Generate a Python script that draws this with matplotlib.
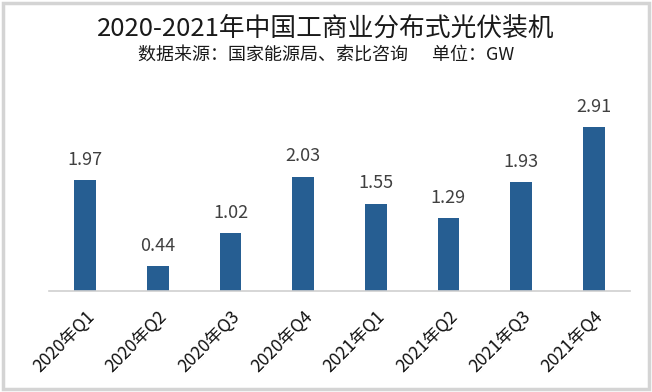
import matplotlib.pyplot as plt
from matplotlib.patches import Rectangle

plt.rcParams['font.family'] = ['Noto Sans CJK SC', 'DejaVu Sans']

# DATA
quarters = ['2020年Q1', '2020年Q2', '2020年Q3', '2020年Q4',
            '2021年Q1', '2021年Q2', '2021年Q3', '2021年Q4']
capacity = [1.97, 0.44, 1.02, 2.03, 1.55, 1.29, 1.93, 2.91]

# FIGURE
fig = plt.figure(figsize=(6.52, 3.92), dpi=100)
fig.patches.append(Rectangle((0.004, 0.008), 0.992, 0.984, transform=fig.transFigure,
                             fill=False, edgecolor='#d4d4d4', linewidth=2.5))

# axes: x 49..630 px, y bottom at 291 px
ax = fig.add_axes([49 / 652, 1 - 291 / 392, 581 / 652, 200 / 392])
x = range(len(quarters))
bars = ax.bar(x, capacity, width=0.3, color='#265E92')
ax.set_xlim(-0.5, len(quarters) - 0.5)
ax.set_ylim(0, 200 / 56.4)

for b, v in zip(bars, capacity):
    ax.text(b.get_x() + b.get_width() / 2, v + 0.2, f'{v:.2f}',
            ha='center', va='bottom', fontsize=13, color='#404040')

ax.set_xticks(list(x))
ax.set_xticklabels(quarters, rotation=45, ha='right', va='top',
                   rotation_mode='anchor', fontsize=12.5, color='#111111')
ax.tick_params(axis='x', length=0, pad=12)
ax.set_yticks([])
for s in ['top', 'right', 'left']:
    ax.spines[s].set_visible(False)
ax.spines['bottom'].set_color('#d0d0d0')
ax.spines['bottom'].set_linewidth(1.2)

fig.text(0.5, 1 - 29 / 392, '2020-2021年中国工商业分布式光伏装机',
         ha='center', va='center', fontsize=18.5, color='#1a1a1a')
fig.text(0.5, 1 - 56 / 392, '数据来源：国家能源局、索比咨询      单位：GW',
         ha='center', va='center', fontsize=13, color='#1a1a1a')

fig.savefig('out.png', dpi=100)
